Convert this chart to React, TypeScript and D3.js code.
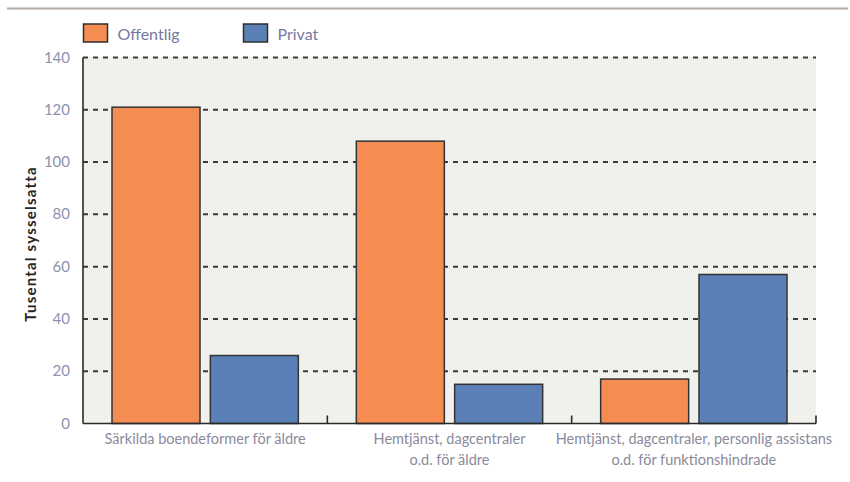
import React from "react";
import * as d3 from "d3";

const categories: string[][] = [
  ["Särkilda boendeformer för äldre"],
  ["Hemtjänst, dagcentraler", "o.d. för äldre"],
  ["Hemtjänst, dagcentraler, personlig assistans", "o.d. för funktionshindrade"],
];
const seriesNames = ["Offentlig", "Privat"];
const offentlig = [121, 108, 17];
const privat = [26, 15, 57];
const yTicks = [0, 20, 40, 60, 80, 100, 120, 140];

const colors = ["#f58d52", "#5a80b7"];
const W = 850;
const H = 482;
const left = 83;
const right = 816;
const top = 57.5;
const bottom = 423.5;
const font = "Lato, 'Open Sans', sans-serif";

export default function App() {
  const keys = categories.map((_, i) => String(i));
  const x0 = d3.scaleBand<string>().domain(keys).range([left, right]).paddingInner(0).paddingOuter(0);
  const x1 = d3
    .scaleBand<string>()
    .domain(seriesNames)
    .range([29, x0.bandwidth() - 29])
    .paddingInner(0.105);
  const y = d3.scaleLinear().domain([0, 140]).range([bottom, top]);
  const values = [offentlig, privat];

  return (
    <svg width={W} height={H} style={{ position: "absolute", left: 0, top: 0 }}>
      <rect width={W} height={H} fill="#ffffff" />
      {/* top rule */}
      <line x1={7} x2={848} y1={8.5} y2={8.5} stroke="#b3aaa3" strokeWidth={2} />

      {/* legend */}
      {seriesNames.map((s, i) => {
        const lx = 83.5 + i * 160;
        return (
          <g key={s}>
            <rect x={lx} y={24} width={24} height={18} fill={colors[i]} stroke="#2f2f2f" strokeWidth={1.5} />
            <text x={lx + 34} y={39.5} fontFamily={font} fontSize={16} fill="#7779a0">
              {s}
            </text>
          </g>
        );
      })}

      {/* plot background */}
      <rect x={left} y={top} width={right - left} height={bottom - top} fill="#f0f0ec" />

      {/* gridlines */}
      {yTicks
        .filter((t) => t > 0)
        .map((t) => (
          <line
            key={t}
            x1={left}
            x2={right}
            y1={y(t)}
            y2={y(t)}
            stroke="#3a3a3a"
            strokeWidth={2}
            strokeDasharray="5,5"
          />
        ))}

      {/* bars */}
      {keys.map((k, ci) => (
        <g key={k} transform={`translate(${x0(k)},0)`}>
          {seriesNames.map((s, si) => (
            <rect
              key={s}
              x={x1(s)}
              y={y(values[si][ci])}
              width={x1.bandwidth()}
              height={y(0) - y(values[si][ci])}
              fill={colors[si]}
              stroke="#333333"
              strokeWidth={1.5}
            />
          ))}
        </g>
      ))}

      {/* axes */}
      <line x1={left} x2={left} y1={top} y2={bottom} stroke="#2a2a2a" strokeWidth={1.6} />
      <line x1={left} x2={right} y1={bottom} y2={bottom} stroke="#2a2a2a" strokeWidth={1.6} />
      {keys.map((k) => {
        const bx = (x0(k) as number) + x0.bandwidth();
        return <line key={k} x1={bx} x2={bx} y1={bottom} y2={bottom - 8} stroke="#2a2a2a" strokeWidth={1.6} />;
      })}

      {/* y tick labels */}
      {yTicks.map((t) => (
        <text
          key={t}
          x={70}
          y={y(t) + 5}
          textAnchor="end"
          fontFamily={font}
          fontSize={15}
          fill="#8b93ae"
        >
          {t}
        </text>
      ))}

      {/* y title */}
      <text
        transform={`translate(36,244) rotate(-90)`}
        textAnchor="middle"
        fontFamily={font}
        fontSize={15}
        fontWeight="bold"
        letterSpacing={1.2}
        fill="#262626"
      >
        Tusental sysselsatta
      </text>

      {/* category labels */}
      {keys.map((k, ci) => (
        <text
          key={k}
          x={(x0(k) as number) + x0.bandwidth() / 2}
          y={444}
          textAnchor="middle"
          fontFamily={font}
          fontSize={14.5}
          fill="#8a8a9c"
        >
          {categories[ci].map((line, li) => (
            <tspan key={li} x={(x0(k) as number) + x0.bandwidth() / 2} dy={li === 0 ? 0 : 21}>
              {line}
            </tspan>
          ))}
        </text>
      ))}
    </svg>
  );
}
